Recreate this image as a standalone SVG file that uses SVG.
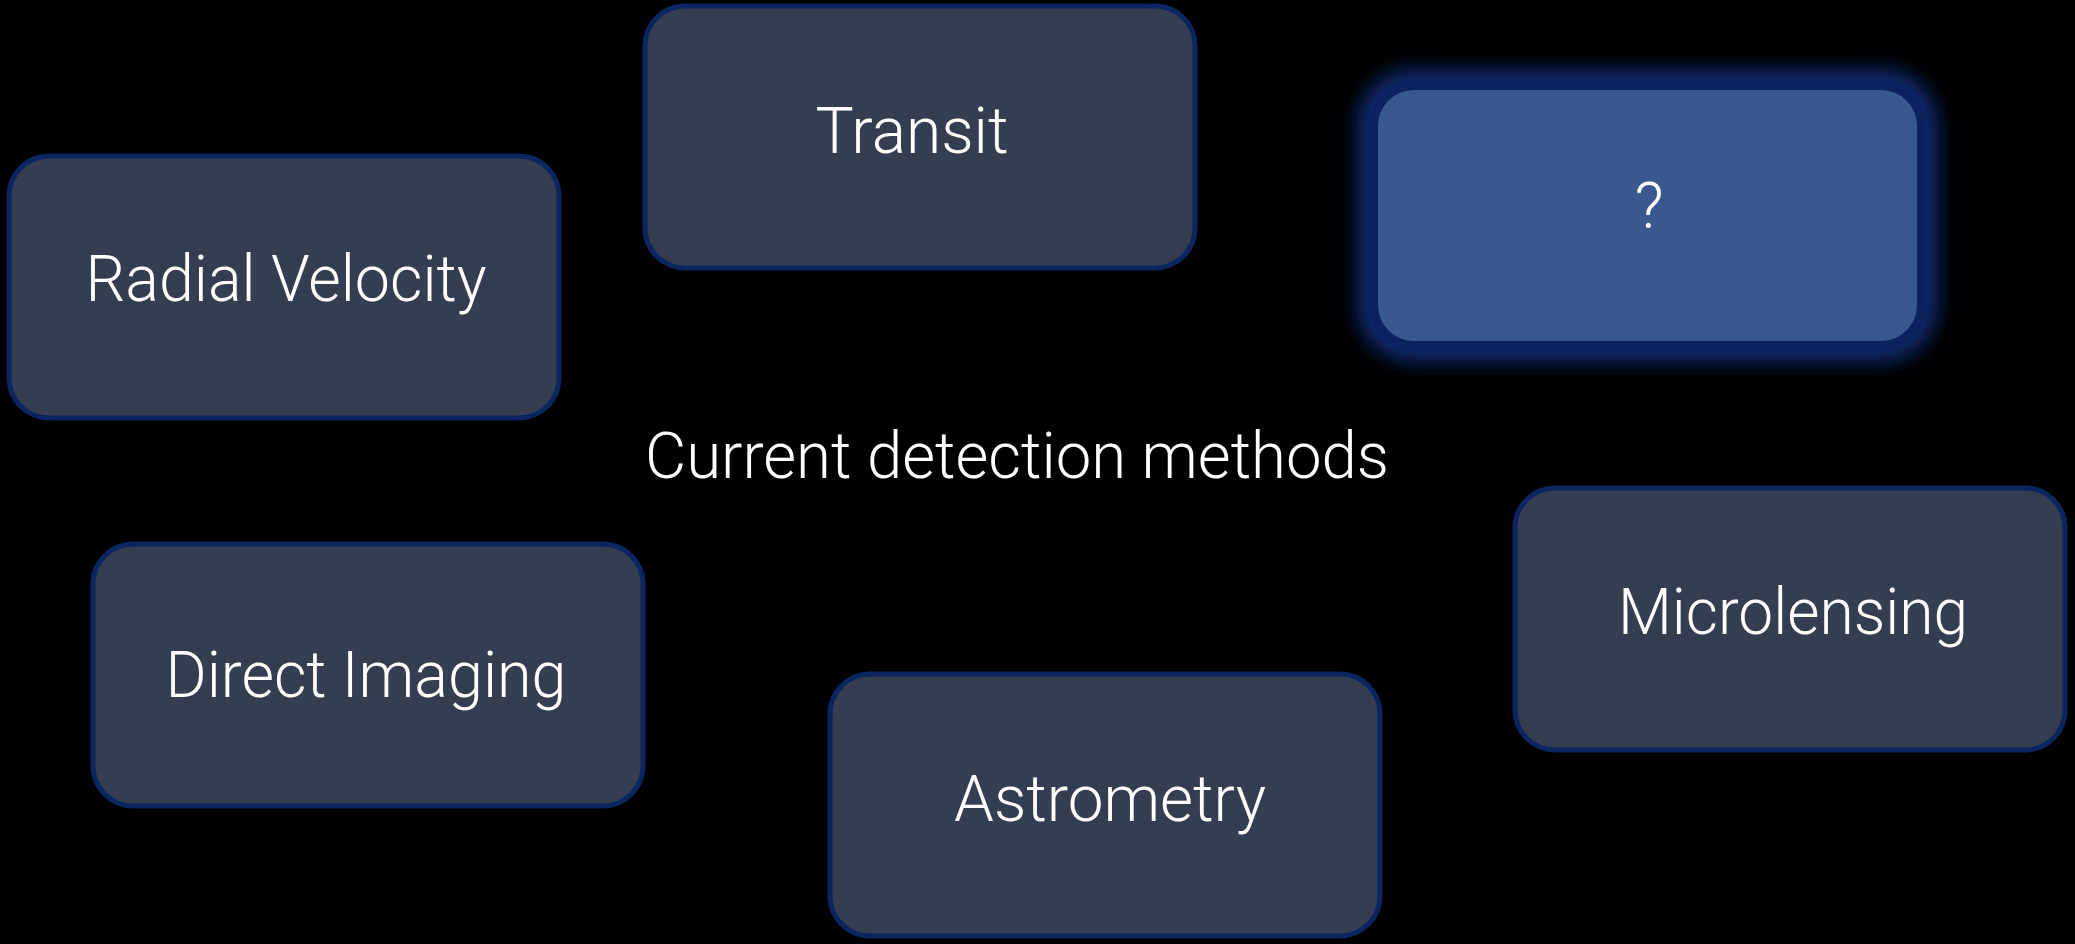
<svg xmlns="http://www.w3.org/2000/svg" width="2075" height="944" viewBox="0 0 2075 944">
  <defs>
    <filter id="glow" x="-20%" y="-30%" width="140%" height="160%">
      <feGaussianBlur stdDeviation="10"/>
    </filter>
    <style>
      .box { fill: #353e51; stroke: #0b2561; stroke-width: 5; }
      .hl { fill: #3a5890; stroke: #0a2260; stroke-width: 8; }
      .halo { fill: none; stroke: #0a2a70; stroke-width: 34; }
      .lbl { font-family: Roboto, "Liberation Sans", sans-serif; font-size: 64px; font-weight: 300; fill: #ffffff; text-anchor: middle; }
    </style>
  </defs>
  <rect width="2075" height="944" fill="#000000"/>

  <g id="connectors"></g>

  <g id="title">
    <text class="lbl" x="1017" y="478" textLength="744" lengthAdjust="spacingAndGlyphs">Current detection methods</text>
  </g>

  <g id="node-transit">
    <rect class="box" x="645" y="6" width="550" height="262" rx="40"/>
    <text class="lbl" x="912" y="153" textLength="193" lengthAdjust="spacingAndGlyphs">Transit</text>
  </g>

  <g id="node-radial-velocity">
    <rect class="box" x="9" y="156" width="550" height="262" rx="40"/>
    <text class="lbl" x="286" y="301" textLength="401" lengthAdjust="spacingAndGlyphs">Radial Velocity</text>
  </g>

  <g id="node-unknown">
    <rect class="halo" x="1374" y="86" width="547" height="259" rx="40" filter="url(#glow)"/>
    <rect class="hl" x="1374" y="86" width="547" height="259" rx="40"/>
    <text class="lbl" x="1649" y="228">?</text>
  </g>

  <g id="node-direct-imaging">
    <rect class="box" x="93" y="544" width="550" height="262" rx="40"/>
    <text class="lbl" x="366" y="697" textLength="401" lengthAdjust="spacingAndGlyphs">Direct Imaging</text>
  </g>

  <g id="node-astrometry">
    <rect class="box" x="830" y="674" width="550" height="262" rx="40"/>
    <text class="lbl" x="1110" y="821" textLength="312" lengthAdjust="spacingAndGlyphs">Astrometry</text>
  </g>

  <g id="node-microlensing">
    <rect class="box" x="1515" y="488" width="550" height="262" rx="40"/>
    <text class="lbl" x="1793" y="634" textLength="350" lengthAdjust="spacingAndGlyphs">Microlensing</text>
  </g>
</svg>
